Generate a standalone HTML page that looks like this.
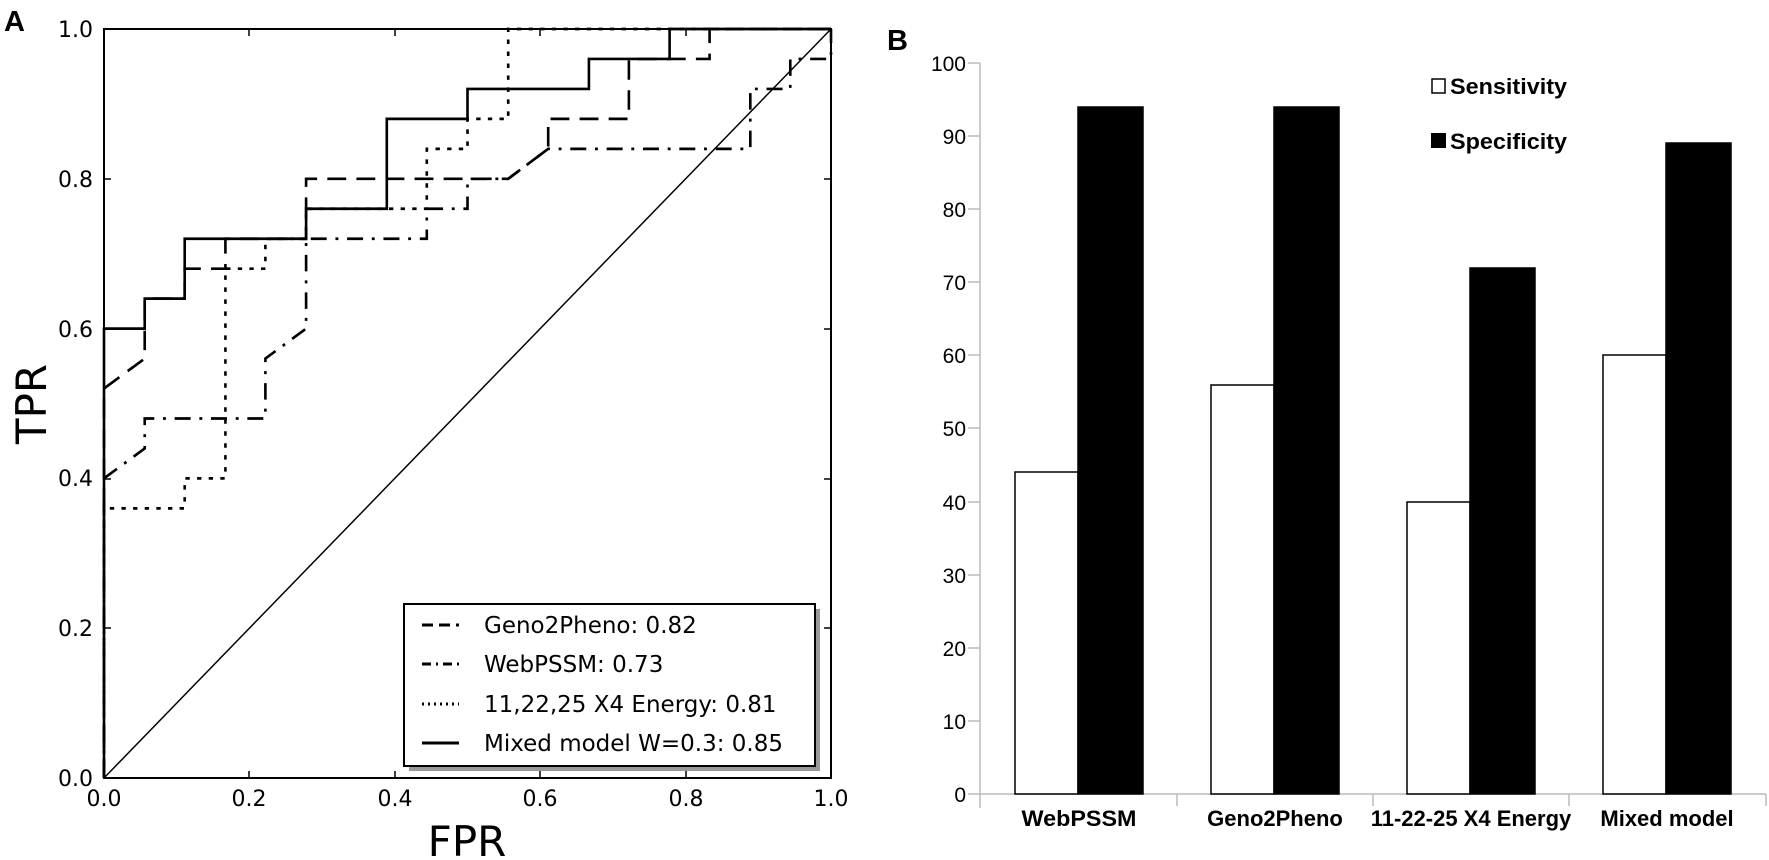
<!DOCTYPE html>
<html><head><meta charset="utf-8"><style>
html,body{margin:0;padding:0;background:#fff;}
svg{display:block;}
</style></head><body>
<svg width="1769" height="860" viewBox="0 0 1769 860" xmlns="http://www.w3.org/2000/svg">
<rect width="1769" height="860" fill="#fff"/>
<!-- Panel A -->
<text x="4" y="31" font-family="Liberation Sans, sans-serif" font-weight="bold" font-size="29">A</text>
<g font-family="DejaVu Sans, sans-serif" font-size="22" fill="#000">
<text x="93" y="37" text-anchor="end">1.0</text>
<text x="93" y="187" text-anchor="end">0.8</text>
<text x="93" y="337" text-anchor="end">0.6</text>
<text x="93" y="486" text-anchor="end">0.4</text>
<text x="93" y="636" text-anchor="end">0.2</text>
<text x="93" y="786" text-anchor="end">0.0</text>
<text x="104" y="806" text-anchor="middle">0.0</text>
<text x="249" y="806" text-anchor="middle">0.2</text>
<text x="395" y="806" text-anchor="middle">0.4</text>
<text x="540" y="806" text-anchor="middle">0.6</text>
<text x="686" y="806" text-anchor="middle">0.8</text>
<text x="831" y="806" text-anchor="middle">1.0</text>
<text x="467" y="856" text-anchor="middle" font-size="42">FPR</text>
<text transform="translate(46,404) rotate(-90)" text-anchor="middle" font-size="42">TPR</text>
</g>
<g stroke="#000" stroke-width="1.5">
<line x1="249" y1="778" x2="249" y2="771"/><line x1="395" y1="778" x2="395" y2="771"/><line x1="540" y1="778" x2="540" y2="771"/><line x1="686" y1="778" x2="686" y2="771"/>
<line x1="249" y1="29" x2="249" y2="36"/><line x1="395" y1="29" x2="395" y2="36"/><line x1="540" y1="29" x2="540" y2="36"/><line x1="686" y1="29" x2="686" y2="36"/>
<line x1="104" y1="179" x2="111" y2="179"/><line x1="104" y1="329" x2="111" y2="329"/><line x1="104" y1="479" x2="111" y2="479"/><line x1="104" y1="628" x2="111" y2="628"/>
<line x1="831" y1="179" x2="824" y2="179"/><line x1="831" y1="329" x2="824" y2="329"/><line x1="831" y1="479" x2="824" y2="479"/><line x1="831" y1="628" x2="824" y2="628"/>
</g>
<g transform="translate(104,778) scale(0.727,-0.749)" fill="none" stroke="#000" stroke-linejoin="miter">
<line x1="0" y1="0" x2="1000" y2="1000" stroke-width="2"/>
<polyline stroke-width="3.6" stroke-dasharray="6,10" points="0,0 0,360 111,360 111,400 167,400 167,680 222,680 222,720 278,720 278,760 444,760 444,840 500,840 500,880 556,880 556,1000 1000,1000"/>
<polyline stroke-width="3.6" stroke-dasharray="22,12,4,12" points="0,0 0,400 56,440 56,480 222,480 222,560 278,600 278,720 444,720 444,760 500,760 500,800 556,800 611,840 889,840 889,920 944,920 944,960 1000,960 1000,1000"/>
<polyline stroke-width="3.6" stroke-dasharray="26,14" points="0,0 0,520 56,560 56,640 111,640 111,680 167,680 167,720 278,720 278,800 556,800 611,840 611,880 722,880 722,960 833,960 833,1000 1000,1000"/>
<polyline stroke-width="3.6" points="0,0 0,600 56,600 56,640 111,640 111,720 278,720 278,760 389,760 389,880 500,880 500,920 667,920 667,960 778,960 778,1000 1000,1000"/>
</g>
<rect x="104" y="29" width="727" height="749" fill="none" stroke="#000" stroke-width="2"/>
<!-- legend -->
<rect x="409" y="609" width="411" height="162" fill="#999"/>
<rect x="404" y="604" width="411" height="162" fill="#fff" stroke="#000" stroke-width="2"/>
<g stroke="#000" stroke-width="3">
<line x1="422" y1="625" x2="459" y2="625" stroke-dasharray="11,6"/>
<line x1="422" y1="664" x2="459" y2="664" stroke-dasharray="9,5,2,5"/>
<line x1="422" y1="704" x2="459" y2="704" stroke-dasharray="2,4"/>
<line x1="422" y1="743" x2="459" y2="743"/>
</g>
<g font-family="DejaVu Sans, sans-serif" font-size="23" fill="#000">
<text x="484" y="633">Geno2Pheno: 0.82</text>
<text x="484" y="672">WebPSSM: 0.73</text>
<text x="484" y="712">11,22,25 X4 Energy: 0.81</text>
<text x="484" y="751">Mixed model W=0.3: 0.85</text>
</g>
<!-- Panel B -->
<text x="887" y="50" font-family="Liberation Sans, sans-serif" font-weight="bold" font-size="29">B</text>
<g stroke="#bbb" stroke-width="1.5">
<line x1="980" y1="63" x2="980" y2="808"/>
<line x1="980" y1="794" x2="1766" y2="794"/>
<line x1="968" y1="63" x2="980" y2="63"/><line x1="968" y1="136" x2="980" y2="136"/><line x1="968" y1="209" x2="980" y2="209"/><line x1="968" y1="282" x2="980" y2="282"/><line x1="968" y1="355" x2="980" y2="355"/><line x1="968" y1="428" x2="980" y2="428"/><line x1="968" y1="502" x2="980" y2="502"/><line x1="968" y1="575" x2="980" y2="575"/><line x1="968" y1="648" x2="980" y2="648"/><line x1="968" y1="721" x2="980" y2="721"/><line x1="968" y1="794" x2="980" y2="794"/>
<line x1="1177" y1="794" x2="1177" y2="806"/><line x1="1373" y1="794" x2="1373" y2="806"/><line x1="1569" y1="794" x2="1569" y2="806"/><line x1="1766" y1="794" x2="1766" y2="806"/>
</g>
<g font-family="Liberation Sans, sans-serif" font-size="21" fill="#000" text-anchor="end">
<text x="966" y="71">100</text><text x="966" y="144">90</text><text x="966" y="217">80</text><text x="966" y="290">70</text><text x="966" y="363">60</text><text x="966" y="436">50</text><text x="966" y="510">40</text><text x="966" y="583">30</text><text x="966" y="656">20</text><text x="966" y="729">10</text><text x="966" y="802">0</text>
</g>
<g stroke="#000" stroke-width="1.5">
<rect x="1015" y="472" width="63" height="322" fill="#fff"/>
<rect x="1078" y="107" width="65" height="687" fill="#000"/>
<rect x="1211" y="385" width="63" height="409" fill="#fff"/>
<rect x="1274" y="107" width="65" height="687" fill="#000"/>
<rect x="1407" y="502" width="63" height="292" fill="#fff"/>
<rect x="1470" y="268" width="65" height="526" fill="#000"/>
<rect x="1603" y="355" width="63" height="439" fill="#fff"/>
<rect x="1666" y="143" width="65" height="651" fill="#000"/>
</g>
<g font-family="Liberation Sans, sans-serif" font-weight="bold" font-size="22" fill="#000" text-anchor="middle">
<text x="1079" y="826" textLength="115" lengthAdjust="spacingAndGlyphs">WebPSSM</text>
<text x="1275" y="826">Geno2Pheno</text>
<text x="1471" y="826">11-22-25 X4 Energy</text>
<text x="1667" y="826">Mixed model</text>
</g>
<rect x="1432" y="79" width="13" height="14" fill="#fff" stroke="#000" stroke-width="1.5"/>
<rect x="1431" y="133" width="15" height="15" fill="#000"/>
<g font-family="Liberation Sans, sans-serif" font-weight="bold" font-size="22" fill="#000">
<text x="1450" y="94" textLength="117" lengthAdjust="spacingAndGlyphs">Sensitivity</text>
<text x="1450" y="149" textLength="117" lengthAdjust="spacingAndGlyphs">Specificity</text>
</g>
</svg>
</body></html>
